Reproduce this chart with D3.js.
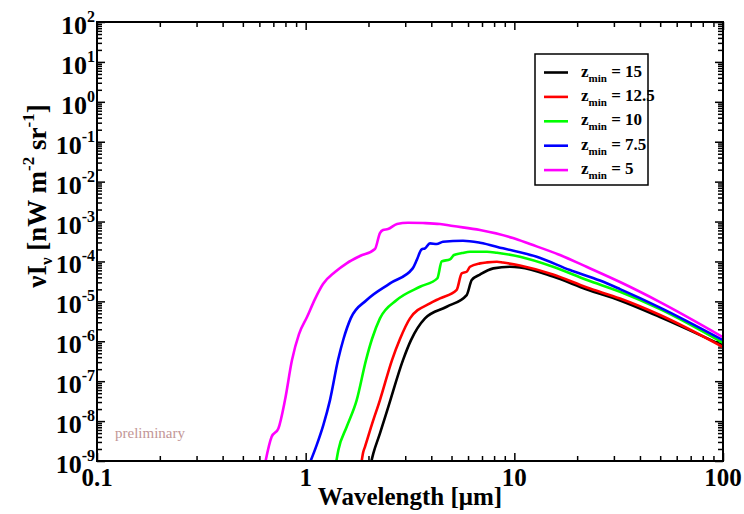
<!DOCTYPE html>
<html><head><meta charset="utf-8">
<script src="https://cdn.jsdelivr.net/npm/d3@7"></script>
<style>body{margin:0;background:#fff} svg{display:block}</style>
</head><body>
<svg id="chart" width="744" height="514"></svg>
<script>
// ---- data ----
const seriesLabels = ["15", "12.5", "10", "7.5", "5"];
const seriesColors = ["#000000", "#ff0000", "#00ff00", "#0000ff", "#ff00ff"];

const wl_z15 = [2.02, 2.11, 2.27, 2.489, 2.927, 3.197, 3.731, 4.74, 5.911, 6.249, 6.845, 7.928, 9.533, 10.64, 15.32, 22.3, 32.09, 49.9, 100];
const v_z15  = [6e-10, 1.55e-9, 4.92e-9, 2.28e-8, 3.38e-7, 1.07e-6, 3.75e-6, 7.33e-6, 1.44e-5, 3.42e-5, 4.70e-5, 6.71e-5, 7.37e-5, 7.11e-5, 4.19e-5, 1.98e-5, 1.05e-5, 4.04e-6, 7.80e-7];

const wl_z125 = [1.83, 1.889, 1.924, 2.072, 2.27, 2.593, 2.831, 3.162, 3.942, 4.403, 5.294, 5.594, 5.911, 6.132, 6.845, 7.396, 8.258, 8.826, 10.64, 15.32, 22.3, 32.09, 49.9, 100];
const v_z125  = [6e-10, 1.70e-9, 2.27e-9, 7.94e-9, 3.36e-8, 3.38e-7, 1.14e-6, 3.75e-6, 8.91e-6, 1.19e-5, 1.95e-5, 5.04e-5, 5.52e-5, 7.37e-5, 8.95e-5, 9.48e-5, 9.82e-5, 9.38e-5, 7.89e-5, 4.70e-5, 2.22e-5, 1.175e-5, 4.54e-6, 7.16e-7];

const wl_z10 = [1.39, 1.434, 1.573, 1.756, 1.946, 2.079, 2.27, 2.731, 3.531, 4.274, 4.487, 4.917, 5.138, 5.613, 6.132, 7.396, 8.258, 10.64, 15.32, 22.3, 32.09, 49.9, 100];
const v_z10  = [7.45e-10, 1.87e-9, 7.19e-9, 3.36e-8, 3.38e-7, 1.14e-6, 3.75e-6, 1.08e-5, 2.32e-5, 3.77e-5, 1.00e-4, 1.13e-4, 1.45e-4, 1.62e-4, 1.75e-4, 1.75e-4, 1.65e-4, 1.31e-4, 7.37e-5, 3.42e-5, 1.74e-5, 6.41e-6, 9.16e-7];

const wl_z75 = [1.037, 1.129, 1.215, 1.308, 1.429, 1.518, 1.644, 1.961, 2.536, 3.258, 3.405, 3.597, 3.731, 3.942, 4.246, 4.551, 5.675, 6.845, 8.826, 12.8, 18.48, 25.73, 32.09, 49.9, 100];
const v_z75  = [7.9e-10, 2.5e-9, 7.94e-9, 3.36e-8, 3.38e-7, 1.14e-6, 3.75e-6, 1.08e-5, 2.82e-5, 6.71e-5, 1.08e-4, 2.01e-4, 2.13e-4, 2.84e-4, 2.73e-4, 3.12e-4, 3.30e-4, 2.94e-4, 2.13e-4, 1.31e-4, 6.09e-5, 3.32e-5, 2.03e-5, 7.0e-6, 1.07e-6];

const wl_z5 = [0.63, 0.687, 0.740, 0.796, 0.860, 0.929, 1.015, 1.108, 1.211, 1.382, 1.578, 1.820, 2.148, 2.270, 2.348, 2.480, 2.740, 3.093, 3.650, 4.403, 5.082, 6.845, 9.85, 11.89, 16.55, 22.3, 32.09, 49.9, 100];
const v_z5  = [6e-10, 4.04e-9, 6.56e-9, 3.36e-8, 3.38e-7, 1.51e-6, 4.04e-6, 1.14e-5, 2.72e-5, 5.42e-5, 9.12e-5, 1.37e-4, 2.05e-4, 5.15e-4, 6.12e-4, 6.49e-4, 8.65e-4, 9.33e-4, 9.16e-4, 8.65e-4, 7.71e-4, 6.12e-4, 3.86e-4, 2.73e-4, 1.45e-4, 7.24e-5, 3.05e-5, 9.6e-6, 1.27e-6];

const xTickValues = [0.1, 1, 10, 100];
const xTickLabels = ["0.1", "1", "10", "100"];
const yTickExponents = [2, 1, 0, -1, -2, -3, -4, -5, -6, -7, -8, -9];

// ---- build ----
const seriesData = [
  {wl: wl_z15, v: v_z15}, {wl: wl_z125, v: v_z125}, {wl: wl_z10, v: v_z10},
  {wl: wl_z75, v: v_z75}, {wl: wl_z5, v: v_z5}
].map((s, i) => ({label: seriesLabels[i], color: seriesColors[i],
  pts: s.wl.map((w, j) => ({wl: w, v: s.v[j]}))}));

const L = 97, R = 723, T = 22, B = 461;
const serif = "'Liberation Serif','Times New Roman',serif";
const svg = d3.select("#chart");
const x = d3.scaleLog().domain([0.1, 100]).range([L, R]);
const y = d3.scaleLog().domain([1e-9, 1e2]).range([B, T]);

svg.append("defs").append("clipPath").attr("id", "clip")
  .append("rect").attr("x", L).attr("y", T).attr("width", R - L).attr("height", B - T);

// minor ticks
const xMinor = [];
[0.1, 1, 10].forEach(d => { for (let k = 2; k <= 9; k++) xMinor.push(d * k); });
const yMajor = yTickExponents.map(e => Math.pow(10, e));
const yMinor = [];
yMajor.filter(d => d < 100).forEach(d => { for (let k = 2; k <= 9; k++) yMinor.push(d * k); });

function styleAxis(g) {
  g.select(".domain").remove();
  g.selectAll(".tick line").attr("stroke", "#000").attr("stroke-width", 1.5);
  g.selectAll(".tick text").remove();
}
const axes = svg.append("g");
[[d3.axisBottom, `translate(0,${B})`], [d3.axisTop, `translate(0,${T})`]].forEach(([f, tr]) => {
  axes.append("g").attr("transform", tr).call(f(x).tickValues(xTickValues).tickSize(-8).tickFormat("")).call(styleAxis);
  axes.append("g").attr("transform", tr).call(f(x).tickValues(xMinor).tickSize(-5).tickFormat("")).call(styleAxis);
});
[[d3.axisLeft, `translate(${L},0)`], [d3.axisRight, `translate(${R},0)`]].forEach(([f, tr]) => {
  axes.append("g").attr("transform", tr).call(f(y).tickValues(yMajor).tickSize(-8).tickFormat("")).call(styleAxis);
  axes.append("g").attr("transform", tr).call(f(y).tickValues(yMinor).tickSize(-5).tickFormat("")).call(styleAxis);
});

// curves
const line = d3.line().x(d => x(d.wl)).y(d => y(d.v)).curve(d3.curveMonotoneX);
svg.append("g").attr("clip-path", "url(#clip)")
  .selectAll("path").data(seriesData).join("path")
  .attr("d", d => line(d.pts)).attr("fill", "none")
  .attr("stroke", d => d.color).attr("stroke-width", 2.6).attr("stroke-linejoin", "round");

// frame
svg.append("rect").attr("x", L).attr("y", T).attr("width", R - L).attr("height", B - T)
  .attr("fill", "none").attr("stroke", "#000").attr("stroke-width", 2);

// x tick labels
svg.append("g").selectAll("text").data(xTickValues).join("text")
  .attr("x", d => x(d)).attr("y", 486).attr("text-anchor", "middle")
  .attr("font-family", serif).attr("font-weight", "bold").attr("font-size", 25)
  .text((d, i) => xTickLabels[i]);

// y tick labels
const yl = svg.append("g").selectAll("text").data(yTickExponents).join("text")
  .attr("x", 95).attr("y", d => y(Math.pow(10, d)) + 12).attr("text-anchor", "end")
  .attr("font-family", serif).attr("font-weight", "bold").attr("font-size", 26);
yl.append("tspan").text("10");
yl.append("tspan").attr("dy", -12).attr("font-size", 16).text(d => String(d));

// axis titles
svg.append("text").attr("x", (L + R) / 2).attr("y", 505).attr("text-anchor", "middle")
  .attr("font-family", serif).attr("font-weight", "bold").attr("font-size", 25)
  .text("Wavelength [\u03bcm]");

const yt = svg.append("text").attr("transform", "translate(46,196) rotate(-90)")
  .attr("text-anchor", "middle").attr("font-family", serif).attr("font-weight", "bold").attr("font-size", 27);
yt.append("tspan").text("\u03bdI");
yt.append("tspan").attr("dy", 6).attr("font-size", 17).text("\u03bd");
yt.append("tspan").attr("dy", -6).text(" [nW m");
yt.append("tspan").attr("dy", -12).attr("font-size", 17).text("-2");
yt.append("tspan").attr("dy", 12).text(" sr");
yt.append("tspan").attr("dy", -12).attr("font-size", 17).text("-1");
yt.append("tspan").attr("dy", 12).text("]");

// preliminary
svg.append("text").attr("x", 115).attr("y", 438).attr("font-family", serif)
  .attr("font-size", 15).attr("fill", "#c29696").text("preliminary");

// legend
const lg = svg.append("g");
lg.append("rect").attr("x", 535).attr("y", 54).attr("width", 113).attr("height", 131)
  .attr("fill", "#fff").attr("stroke", "#000").attr("stroke-width", 1.5);
const items = lg.selectAll("g.item").data(seriesData).join("g")
  .attr("transform", (d, i) => `translate(0,${72.5 + i * 24.4})`);
items.append("line").attr("x1", 544).attr("x2", 568).attr("y1", 0).attr("y2", 0)
  .attr("stroke", d => d.color).attr("stroke-width", 2.6);
const lt = items.append("text").attr("x", 581).attr("y", 4)
  .attr("font-family", serif).attr("font-weight", "bold").attr("font-size", 17);
lt.append("tspan").text("z");
lt.append("tspan").attr("dy", 5).attr("font-size", 11).text("min");
lt.append("tspan").attr("dy", -5).text(d => " = " + d.label);
</script>
</body></html>
